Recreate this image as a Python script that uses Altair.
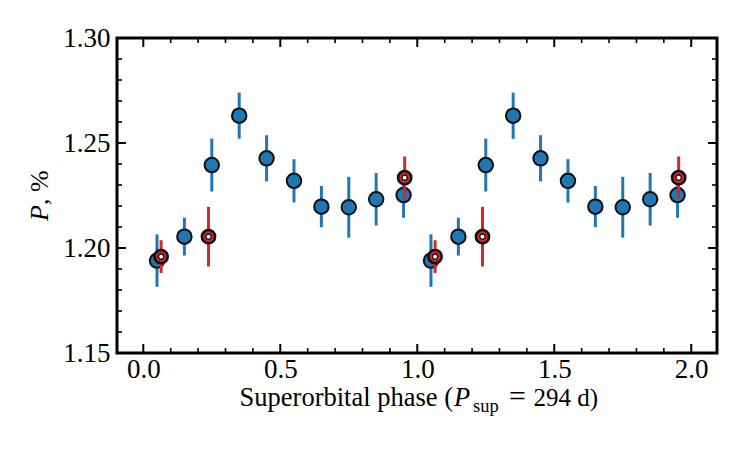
import altair as alt
import pandas as pd

# ---- data ----
blue_phase = [0.05, 0.15, 0.25, 0.35, 0.45, 0.55, 0.65, 0.75, 0.85, 0.95,
              1.05, 1.15, 1.25, 1.35, 1.45, 1.55, 1.65, 1.75, 1.85, 1.95]
blue_p = [1.194, 1.2054, 1.2395, 1.263, 1.2427, 1.232, 1.2197, 1.2194, 1.2232, 1.2252,
          1.194, 1.2054, 1.2395, 1.263, 1.2427, 1.232, 1.2197, 1.2194, 1.2232, 1.2252]
blue_err = [0.0125, 0.009, 0.0126, 0.011, 0.011, 0.0103, 0.0098, 0.0145, 0.0125, 0.0108,
            0.0125, 0.009, 0.0126, 0.011, 0.011, 0.0103, 0.0098, 0.0145, 0.0125, 0.0108]

red_phase = [0.065, 0.238, 0.954, 1.065, 1.238, 1.954]
red_p = [1.1959, 1.2054, 1.2335, 1.1959, 1.2054, 1.2335]
red_err = [0.0078, 0.0142, 0.0101, 0.0078, 0.0142, 0.0101]

x_major = [0.0, 0.5, 1.0, 1.5, 2.0]
x_minor = [0.1, 0.2, 0.3, 0.4, 0.6, 0.7, 0.8, 0.9, 1.1, 1.2, 1.3, 1.4, 1.6, 1.7, 1.8, 1.9]
y_major = [1.15, 1.20, 1.25, 1.30]
y_minor = [1.16, 1.17, 1.18, 1.19, 1.21, 1.22, 1.23, 1.24, 1.26, 1.27, 1.28, 1.29]

BLUE = "#1f77b4"
RED = "#d62728"
FONT = "Liberation Serif"
FS = 27
W, H = 600, 315

blue = pd.DataFrame({"phase": blue_phase, "p": blue_p, "err": blue_err})
blue["lo"] = blue["p"] - blue["err"]
blue["hi"] = blue["p"] + blue["err"]
red = pd.DataFrame({"phase": red_phase, "p": red_p, "err": red_err})
red["lo"] = red["p"] - red["err"]
red["hi"] = red["p"] + red["err"]

xs = alt.Scale(domain=[-0.096, 2.094], nice=False, zero=False)
ys = alt.Scale(domain=[1.15, 1.30], nice=False, zero=False)

xaxis = alt.Axis(values=x_major, format=".1f", labelFont=FONT, labelFontSize=FS,
                 labelColor="black", ticks=False, tickSize=0, domain=False, grid=False,
                 title=None, labelBaseline="alphabetic", labelPadding=24)
yaxis = alt.Axis(values=y_major, format=".2f", labelFont=FONT, labelFontSize=FS,
                 labelColor="black", ticks=False, tickSize=0, domain=False, grid=False,
                 title=None, labelPadding=7)

X = lambda f: alt.X(f, type="quantitative", scale=xs, axis=xaxis)
Y = lambda f: alt.Y(f, type="quantitative", scale=ys, axis=yaxis)

blue_bars = alt.Chart(blue).mark_rule(color=BLUE, strokeWidth=3).encode(
    x=X("phase"), y=Y("lo"), y2="hi")
blue_pts = alt.Chart(blue).mark_point(shape="circle", filled=True, fill=BLUE, stroke="#111",
                                      strokeWidth=2, size=210, opacity=1).encode(
    x=X("phase"), y=Y("p"))
red_bars = alt.Chart(red).mark_rule(color=RED, strokeWidth=3).encode(
    x=X("phase"), y=Y("lo"), y2="hi")
red_pts = alt.Chart(red).mark_point(shape="circle", filled=True, fill=RED, stroke="#111",
                                    strokeWidth=2.6, size=175, opacity=1).encode(
    x=X("phase"), y=Y("p"))
red_core = alt.Chart(red).mark_point(shape="circle", filled=True, fill="white", stroke="#111",
                                     strokeWidth=1.4, size=28, opacity=1).encode(
    x=X("phase"), y=Y("p"))

# inward ticks on all four sides
ym_df = pd.DataFrame({"v": y_major})
yn_df = pd.DataFrame({"v": y_minor})
xm_df = pd.DataFrame({"v": x_major})
xn_df = pd.DataFrame({"v": x_minor})

MAJ, MIN = 9, 5
ticks = [
    alt.Chart(ym_df).mark_rule(color="black", strokeWidth=2).encode(
        y=Y("v"), x=alt.value(0), x2=alt.value(MAJ)),
    alt.Chart(ym_df).mark_rule(color="black", strokeWidth=2).encode(
        y=Y("v"), x=alt.value(W - MAJ), x2=alt.value(W)),
    alt.Chart(yn_df).mark_rule(color="black", strokeWidth=1.6).encode(
        y=Y("v"), x=alt.value(0), x2=alt.value(MIN)),
    alt.Chart(yn_df).mark_rule(color="black", strokeWidth=1.6).encode(
        y=Y("v"), x=alt.value(W - MIN), x2=alt.value(W)),
    alt.Chart(xm_df).mark_rule(color="black", strokeWidth=2).encode(
        x=X("v"), y=alt.value(H - MAJ), y2=alt.value(H)),
    alt.Chart(xm_df).mark_rule(color="black", strokeWidth=2).encode(
        x=X("v"), y=alt.value(0), y2=alt.value(MAJ)),
    alt.Chart(xn_df).mark_rule(color="black", strokeWidth=1.6).encode(
        x=X("v"), y=alt.value(H - MIN), y2=alt.value(H)),
    alt.Chart(xn_df).mark_rule(color="black", strokeWidth=1.6).encode(
        x=X("v"), y=alt.value(0), y2=alt.value(MIN)),
]

one = pd.DataFrame({"a": [1]})


def txt(s, x, y, align="left", size=FS, style="normal", angle=0, baseline="alphabetic"):
    return alt.Chart(one).mark_text(text=s, font=FONT, fontSize=size, fontStyle=style,
                                    align=align, baseline=baseline, angle=angle,
                                    color="black").encode(x=alt.value(x), y=alt.value(y))


TY = 367.5
titles = [
    txt("Superorbital phase (", 336, TY, align="right", size=26.5),
    txt("P", 337, TY, align="left", size=26.5, style="italic"),
    txt("sup", 356, TY + 6, align="left", size=18.5),
    txt("=", 400.5, TY, align="center", size=30),
    txt("294 d)", 481, TY, align="right", size=25),
    txt("P", -77, 167, align="right", size=26, style="italic", angle=270, baseline="middle"),
    txt(", %", -77, 167, align="left", size=26, angle=270, baseline="middle"),
]

chart = alt.layer(blue_bars, blue_pts, red_bars, red_pts, red_core, *ticks, *titles).properties(
    width=W, height=H,
    padding={"left": 109, "top": 30, "right": 22, "bottom": 90},
    autosize=alt.AutoSizeParams(type="none"),
).configure_view(stroke="black", strokeWidth=3)

chart.save("out.html", embed_options={"renderer": "svg", "actions": False})
